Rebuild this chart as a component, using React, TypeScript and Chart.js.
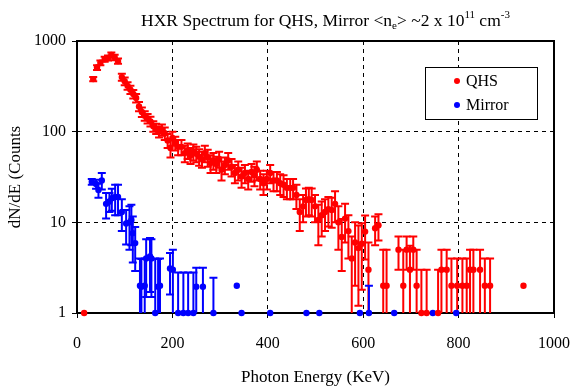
import { useEffect, useRef } from "react";
import { Chart, registerables } from "chart.js";

Chart.register(...registerables);

// ---- Text ----
const titleParts: { text: string; shift: number }[] = [
  { text: "HXR Spectrum for QHS, Mirror <n", shift: 0 },
  { text: "e", shift: -1 },
  { text: "> ~2 x 10", shift: 0 },
  { text: "11", shift: 1 },
  { text: " cm", shift: 0 },
  { text: "-3", shift: 1 },
];
const xAxisTitle = "Photon Energy (KeV)";
const yAxisTitle = "dN/dE (Counts";
const seriesNames = ["QHS", "Mirror"];
const seriesColors = ["#ff0000", "#0000ff"];

// ---- Ticks ----
const xTickValues = [0, 200, 400, 600, 800, 1000];
const yTickValues = [1, 10, 100, 1000];

// ---- QHS series ----
const qhsX = [
  15, 34, 42, 49, 58, 65, 72, 79, 86, 94, 100, 106, 112, 118, 124, 130, 136, 142, 148, 154,
  160, 166, 172, 178, 184, 190, 196, 200, 206, 212, 219, 226, 232, 238, 244, 250, 256, 262, 268, 274,
  280, 286, 292, 298, 303, 310, 317, 324, 331, 338, 345, 352, 359, 366, 372, 377, 384, 391, 398, 405,
  412, 419, 426, 433, 440, 447, 453, 460, 467, 474, 480, 486, 492, 499, 506, 513, 520, 527, 534, 541,
  548, 555, 562, 569, 576, 583, 590, 597, 604, 611, 625, 632, 642, 649, 674, 684, 691, 698, 705, 712,
  722, 733, 757, 764, 775, 785, 797, 808, 817, 824, 831, 845, 855, 866, 936,
];
const qhsY = [
  1, 380, 510, 575, 630, 650, 700, 660, 600, 400, 360, 320, 290, 260, 235, 190, 165, 150, 140, 130,
  115, 108, 100, 105, 96, 80, 66, 85, 75, 68, 68, 58, 62, 55, 60, 57, 53, 50, 58, 52,
  45, 48, 44, 50, 38, 43, 48, 41, 35, 38, 32, 35, 30, 36, 33, 38, 30, 27, 30, 35,
  29, 29, 27, 26, 24, 24, 24, 20, 13, 15, 17.6, 18, 17.6, 15, 10.6, 12, 13, 14, 13.7, 16,
  10, 6.9, 11, 8, 4, 6, 5.2, 5.8, 7.9, 3, 8.6, 9.3, 2, 2, 5, 2, 5, 3, 5, 2,
  1, 1, 1, 3, 3, 2, 2, 2, 2, 3, 3, 3, 2, 2, 2,
];
const qhsErr = [
  0, 20, 30, 35, 40, 40, 45, 45, 40, 35, 35, 30, 30, 28, 25, 22, 20, 18, 17, 16,
  15, 14, 14, 15, 15, 14, 14, 15, 13, 13, 13, 12, 12, 11, 12, 11, 11, 10, 12, 11,
  10, 10, 9, 10, 9, 9, 10, 9, 8, 9, 8, 8, 7, 8, 8, 9, 7, 7, 7, 8,
  7, 7, 7, 7, 6, 6, 6, 6, 5, 5, 6, 6, 6, 5, 5, 5, 5, 5, 5, 6,
  5, 4, 5, 4, 3, 4, 4, 4, 4, 3, 3, 3, 3, 3, 2, 3, 2, 2.5, 2, 3,
  2, 2, 2, 2, 2, 2, 2, 2, 2, 2, 2, 2, 2, 2, 0,
];

// ---- Mirror series ----
const mirX = [
  31, 40, 45, 52, 61, 68, 73, 80, 86, 94, 103, 110, 114, 117, 122, 132, 135, 142, 145, 153,
  156, 164, 170, 174, 195, 201, 212, 223, 233, 244, 250, 264, 286, 335, 345, 405, 481, 508, 593, 612,
  665, 746, 795,
];
const mirY = [
  28, 26.5, 22.7, 29, 16, 17, 18.4, 19, 19, 13, 9.7, 10, 10.6, 7.6, 5.9, 2, 1.95, 2, 4, 4.2,
  4, 1, 1.95, 2, 3.1, 3, 1, 1, 1, 1, 1.95, 1.95, 1, 2, 1, 1, 1, 1, 1, 1,
  1, 1, 1,
];
const mirErr = [
  2, 3, 4, 6, 5, 4, 5, 7, 7, 5, 4, 5, 5, 4, 3, 2, 2, 2, 2.5, 2.5,
  2.5, 3, 2, 2, 1.5, 2, 1.8, 1.8, 1.8, 1.8, 1.2, 1.2, 1.45, 0, 0, 0, 0, 0, 0, 1,
  0, 0, 0,
];

const FONT = "'Liberation Serif', 'Times New Roman', serif";

const framePlugin = {
  id: "frame",
  beforeDatasetsDraw(chart: any) {
    const { ctx, chartArea: a } = chart;
    ctx.save();
    ctx.strokeStyle = "#000";
    ctx.lineWidth = 2;
    ctx.strokeRect(a.left, a.top, a.right - a.left, a.bottom - a.top);
    ctx.restore();
  },
};

const errorBarPlugin = {
  id: "errorBars",
  beforeDatasetsDraw(chart: any) {
    const { ctx, scales } = chart;
    const x = scales.x;
    const y = scales.y;
    chart.data.datasets.forEach((ds: any) => {
      const errs: number[] = ds.errors || [];
      ctx.save();
      ctx.strokeStyle = ds.borderColor;
      ctx.lineWidth = 2;
      ds.data.forEach((p: any, i: number) => {
        const e = errs[i];
        if (!e) return;
        const lo = Math.max(p.y - e, y.min);
        const hi = Math.min(p.y + e, y.max);
        const px = x.getPixelForValue(p.x);
        const pLo = y.getPixelForValue(lo);
        const pHi = y.getPixelForValue(hi);
        ctx.beginPath();
        ctx.moveTo(px, pLo);
        ctx.lineTo(px, pHi);
        ctx.moveTo(px - 4, pHi);
        ctx.lineTo(px + 4, pHi);
        if (p.y - e > y.min) {
          ctx.moveTo(px - 4, pLo);
          ctx.lineTo(px + 4, pLo);
        }
        ctx.stroke();
      });
      ctx.restore();
    });
  },
};

const titlePlugin = {
  id: "richTitle",
  afterDraw(chart: any) {
    const { ctx, chartArea: a } = chart;
    const size = 17.5;
    const small = 11;
    ctx.save();
    ctx.fillStyle = "#000";
    ctx.textBaseline = "alphabetic";
    let total = 0;
    titleParts.forEach((p) => {
      ctx.font = `${p.shift ? small : size}px ${FONT}`;
      total += ctx.measureText(p.text).width;
    });
    let cx = (a.left + a.right) / 2 + 10 - total / 2;
    const base = 26;
    titleParts.forEach((p) => {
      ctx.font = `${p.shift ? small : size}px ${FONT}`;
      const dy = p.shift > 0 ? -8 : p.shift < 0 ? 3 : 0;
      ctx.fillText(p.text, cx, base + dy);
      cx += ctx.measureText(p.text).width;
    });
    ctx.restore();
  },
};

const legendPlugin = {
  id: "boxLegend",
  afterDraw(chart: any) {
    const { ctx, chartArea: a } = chart;
    const left = a.right - 129;
    const top = a.top + 26;
    const w = 112;
    const h = 52;
    ctx.save();
    ctx.fillStyle = "#fff";
    ctx.fillRect(left, top, w, h);
    ctx.strokeStyle = "#000";
    ctx.lineWidth = 1;
    ctx.strokeRect(left + 0.5, top + 0.5, w, h);
    chart.data.datasets.forEach((ds: any, i: number) => {
      const cy = top + 14 + i * 24;
      ctx.fillStyle = ds.backgroundColor;
      ctx.beginPath();
      ctx.arc(left + 32, cy, 3, 0, Math.PI * 2);
      ctx.fill();
      ctx.fillStyle = "#000";
      ctx.font = `16px ${FONT}`;
      ctx.textBaseline = "middle";
      ctx.fillText(ds.label, left + 41, cy + 1);
    });
    ctx.restore();
  },
};

export default function App() {
  const ref = useRef<HTMLCanvasElement | null>(null);

  useEffect(() => {
    document.body.style.margin = "0";
    const canvas = ref.current;
    if (!canvas) return;
    const mk = (xs: number[], ys: number[]) => xs.map((v, i) => ({ x: v, y: ys[i] }));
    const chart = new Chart(canvas, {
      type: "scatter",
      data: {
        datasets: [
          {
            label: seriesNames[0],
            data: mk(qhsX, qhsY),
            errors: qhsErr,
            backgroundColor: seriesColors[0],
            borderColor: seriesColors[0],
            pointRadius: 3.2,
            pointBorderWidth: 0,
            clip: false,
          } as any,
          {
            label: seriesNames[1],
            data: mk(mirX, mirY),
            errors: mirErr,
            backgroundColor: seriesColors[1],
            borderColor: seriesColors[1],
            pointRadius: 3.2,
            pointBorderWidth: 0,
            clip: false,
          } as any,
        ],
      },
      options: {
        animation: false,
        responsive: true,
        maintainAspectRatio: false,
        layout: { padding: { top: 41, right: 18, left: 0, bottom: 0 } },
        plugins: {
          legend: { display: false },
          title: { display: false },
          tooltip: { enabled: false },
        },
        scales: {
          x: {
            type: "linear",
            min: 0,
            max: 1000,
            afterBuildTicks: (s: any) => {
              s.ticks = xTickValues.map((v) => ({ value: v }));
            },
            afterFit: (s: any) => {
              s.height = 77;
              s.paddingLeft = 0;
              s.paddingRight = 0;
            },
            ticks: {
              color: "#000",
              font: { family: FONT, size: 16 },
              padding: 16,
              maxRotation: 0,
              autoSkip: false,
              callback: (v: any) => String(v),
            },
            grid: {
              color: (c: any) =>
                c.tick && c.tick.value > 0 && c.tick.value < 1000 ? "#000" : "rgba(0,0,0,0)",
              tickColor: "#000",
              tickLength: 5,
              lineWidth: 1,
            },
            border: { color: "#000", width: 2, dash: [4, 4] },
            title: {
              display: true,
              text: xAxisTitle,
              color: "#000",
              font: { family: FONT, size: 17 },
              padding: { top: 0, bottom: 2 },
            },
          },
          y: {
            type: "logarithmic",
            min: 1,
            max: 1000,
            afterBuildTicks: (s: any) => {
              s.ticks = yTickValues.map((v) => ({ value: v }));
            },
            afterFit: (s: any) => {
              s.width = 77;
              s.paddingTop = 0;
              s.paddingBottom = 0;
            },
            ticks: {
              color: "#000",
              font: { family: FONT, size: 16 },
              padding: 6,
              autoSkip: false,
              callback: (v: any) => String(v),
            },
            grid: {
              color: (c: any) =>
                c.tick && (c.tick.value === 10 || c.tick.value === 100) ? "#000" : "rgba(0,0,0,0)",
              tickColor: "#000",
              tickLength: 5,
              lineWidth: 1,
            },
            border: { color: "#000", width: 2, dash: [4, 4] },
            title: {
              display: true,
              text: yAxisTitle,
              color: "#000",
              font: { family: FONT, size: 17 },
              padding: { top: 5, bottom: 0 },
            },
          },
        },
      },
      plugins: [framePlugin, errorBarPlugin, titlePlugin, legendPlugin],
    } as any);
    return () => chart.destroy();
  }, []);

  return (
    <div style={{ width: 572, height: 390, position: "relative" }}>
      <canvas ref={ref} />
    </div>
  );
}
